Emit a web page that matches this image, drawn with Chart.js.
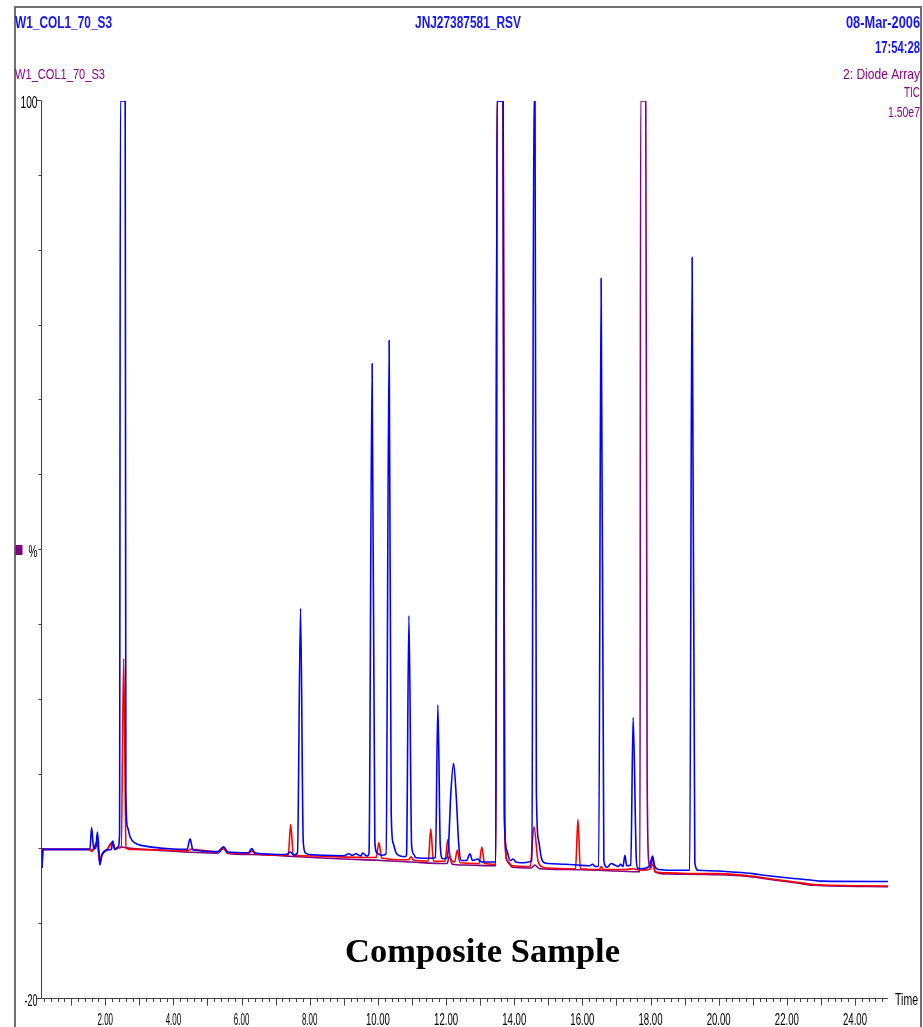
<!DOCTYPE html>
<html>
<head>
<meta charset="utf-8">
<script src="https://cdn.jsdelivr.net/npm/chart.js@4/dist/chart.umd.min.js"></script>
<style>
  html, body { margin: 0; padding: 0; background: #ffffff; }
  #wrap { position: relative; width: 923px; height: 1027px; }
  canvas { display: block; }
</style>
</head>
<body>
<div id="wrap"><canvas id="c" width="923" height="1027"></canvas></div>
<script>
// ---------------- DATA (time in minutes, response in %) ----------------
const blueTrace = [
  [0.144,-2.5],[0.17,0],[1.55,0],[1.60,2.9],[1.66,0.1],[1.72,0.2],[1.77,2.3],[1.81,0.0],[1.84,-2.1],
  [1.90,-0.8],[2.04,-0.1],[2.18,0.0],[2.22,1.1],[2.27,0.0],[2.31,0.1],[2.37,0.3],[2.42,2.0],
  [2.445,100],[2.585,100],[2.605,8],[2.65,3.0],[2.73,1.65],[2.87,0.85],[3.22,0.4],[4.0,0.05],
  [4.40,0.0],[4.49,1.4],[4.57,-0.05],[5.30,-0.3],[5.47,0.35],[5.60,-0.35],[6.20,-0.45],[6.30,0.1],
  [6.40,-0.5],[7.30,-0.7],[7.44,-0.35],[7.52,-0.75],[7.64,-0.5],[7.73,32.2],[7.81,1.0],[7.88,-0.5],
  [8.0,-0.7],[9.0,-0.85],[9.15,-0.6],[9.25,-0.8],[9.35,-0.6],[9.50,-0.9],[9.55,-0.5],[9.68,-0.9],
  [9.74,-0.5],[9.83,64.9],[9.91,1.0],[9.98,-0.5],[10.10,-0.8],[10.24,-0.6],[10.33,68.0],[10.39,5.0],
  [10.45,0.8],[10.55,-0.6],[10.80,-1.0],[10.84,-0.7],[10.91,31.2],[10.99,0.5],[11.06,-0.7],[11.10,-1.1],
  [11.30,-1.2],[11.50,-1.2],[11.69,-1.1],[11.76,19.3],[11.83,0.5],[11.90,-1.25],[12.02,-1.2],
  [12.07,0.3],[12.14,7.45],[12.22,11.5],[12.30,7.0],[12.37,0.8],[12.45,-1.5],[12.60,-1.5],[12.70,-0.6],
  [12.78,-1.5],[12.93,-1.3],[13.0,-1.6],[13.10,-1.7],[13.30,-1.7],[13.46,-1.7],[13.495,100],[13.675,100],
  [13.71,5.0],[13.78,-0.1],[13.88,-1.5],[13.97,-1.3],[14.05,-1.7],[14.20,-1.8],[14.52,-1.5],
  [14.575,100],[14.61,100],[14.65,8],[14.71,1.3],[14.80,-1.2],[14.88,-1.8],[15.0,-1.9],[15.5,-2.0],[15.85,-2.1],
  [16.20,-2.2],[16.30,-2.0],[16.38,-2.3],[16.48,-2.3],[16.55,76.3],[16.63,-1.5],[16.72,-2.4],
  [16.85,-1.9],[16.95,-2.1],[17.05,-2.3],[17.12,-2.0],[17.19,-2.3],[17.25,-0.8],[17.30,-2.2],
  [17.42,-2.1],[17.49,17.6],[17.58,-1.0],[17.62,-2.5],[17.72,-2.6],[17.95,-2.3],[18.0,-1.8],
  [18.06,-0.9],[18.12,-2.2],[18.25,-2.7],[18.60,-2.8],[19.15,-2.8],[19.22,79.1],[19.30,-1.8],
  [19.40,-2.8],[20.0,-2.9],[20.3,-3.0],[21.0,-3.25],[21.4,-3.5],[22.2,-3.9],[22.7,-4.1],[23.0,-4.25],
  [24.97,-4.3]
];
const redTrace = [
  [0.144,-2.5],[0.17,0],[1.55,0],[1.60,-0.3],[1.66,0],[1.77,0.6],[1.84,-1.5],[1.90,-0.7],[2.04,-0.1],
  [2.22,0.8],[2.29,0],[2.37,0.2],[2.47,0.3],[2.54,25.5],[2.61,0.2],[2.70,0.0],[3.5,-0.05],[4.4,-0.2],
  [4.49,0.0],[5.3,-0.35],[5.47,0.2],[5.6,-0.45],[6.2,-0.55],[6.3,-0.2],[6.4,-0.6],[7.37,-0.8],
  [7.44,3.3],[7.52,-0.7],[7.7,-0.85],[9.95,-1.1],[10.03,0.9],[10.11,-1.15],[10.9,-1.4],[10.97,-1.0],
  [11.05,-1.45],[11.48,-1.55],[11.55,2.7],[11.63,-1.55],[11.97,-1.6],[12.05,1.3],[12.12,-1.0],
  [12.25,-1.7],[12.33,-0.1],[12.41,-1.8],[12.97,-1.9],[13.05,0.3],[13.13,-1.9],[13.46,-2.0],
  [13.495,100],[13.675,100],[13.72,3.0],[13.80,-1.5],[13.95,-2.2],[14.47,-2.3],[14.58,3.0],
  [14.70,-1.6],[14.85,-2.4],[15.0,-2.5],[15.80,-2.6],[15.87,4.0],[15.94,-2.6],[16.5,-2.7],
  [16.55,-2.3],[16.62,-2.7],[17.25,-2.7],[17.49,-2.6],[17.70,-2.8],[18.0,-2.6],[18.06,-2.0],
  [18.15,-3.0],[18.5,-3.15],[19.45,-3.25],[20.0,-3.25],[20.8,-3.5],[21.8,-4.1],[22.3,-4.4],
  [22.8,-4.7],[24.97,-4.9]
];
const purpleTrace = [
  [0.144,-2.5],[0.17,0],[1.55,0],[1.60,-0.2],[1.77,1.0],[1.84,-1.8],[1.90,-0.8],[2.04,-0.1],
  [2.22,1.0],[2.29,0],[2.37,0.2],[2.50,0.3],[2.62,0.2],[3.5,-0.1],[5.3,-0.5],[5.47,0.1],[5.6,-0.55],
  [6.3,-0.7],[7.7,-1.0],[9.0,-1.3],[10.0,-1.45],[11.0,-1.7],[12.03,-1.9],[12.10,-0.9],[12.18,-2.0],
  [12.5,-2.1],[13.46,-2.2],[13.495,100],[13.675,100],[13.72,3.0],[13.80,-1.6],[13.95,-2.4],
  [14.5,-2.5],[14.6,-2.1],[14.75,-2.6],[15.5,-2.7],[16.5,-2.8],[17.0,-2.9],[17.69,-3.0],
  [17.71,100],[17.86,100],[17.90,10],[17.95,-1.7],[18.0,-2.4],[18.06,-1.0],[18.13,-3.0],
  [18.5,-3.3],[20.0,-3.4],[20.8,-3.6],[21.8,-4.2],[22.3,-4.5],[22.8,-4.8],[24.97,-5.0]
];
const xTickValues = [2, 4, 6, 8, 10, 12, 14, 16, 18, 20, 22, 24];
const xTickLabels = ['2.00','4.00','6.00','8.00','10.00','12.00','14.00','16.00','18.00','20.00','22.00','24.00'];
const yTickValues = [100, 40, -20];
const yTickLabels = ['100', '%', '-20'];
const X_MIN = 0.144, X_MAX = 24.968, Y_MIN = -20, Y_MAX = 100;

// ---------------- helpers ----------------
function toXY(arr) { return arr.map(p => ({ x: p[0], y: p[1] })); }

function txt(ctx, s, x, y, o) {
  ctx.save();
  ctx.font = o.font;
  ctx.fillStyle = o.color || '#000';
  ctx.textBaseline = 'alphabetic';
  ctx.textAlign = 'left';
  const w = ctx.measureText(s).width;
  const target = o.width || w;
  const sx = target / w;
  let left = x;
  if (o.align === 'right') left = x - target;
  else if (o.align === 'center') left = x - target / 2;
  ctx.translate(left, y);
  ctx.scale(sx, 1);
  ctx.fillText(s, 0, 0);
  ctx.restore();
}

const SANS = '"Liberation Sans", Arial, sans-serif';

const decor = {
  id: 'decor',
  beforeDatasetsDraw(chart) {
    const ctx = chart.ctx;
    const xs = chart.scales.x, ys = chart.scales.y;
    const ca = chart.chartArea;
    ctx.save();
    // outer frame
    ctx.strokeStyle = '#707070';
    ctx.lineWidth = 2;
    ctx.beginPath();
    ctx.moveTo(15, 1027); ctx.lineTo(15, 7); ctx.lineTo(921, 7); ctx.lineTo(921, 1027);
    ctx.stroke();

    // axes
    ctx.strokeStyle = '#404040';
    ctx.lineWidth = 1;
    const ax = Math.round(ca.left) - 0.5;
    const ay = Math.round(ys.getPixelForValue(Y_MIN)) - 0.5;
    ctx.beginPath();
    ctx.moveTo(ax, ys.getPixelForValue(Y_MAX));
    ctx.lineTo(ax, ay);
    ctx.lineTo(ca.right, ay);
    ctx.stroke();

    // y ticks every 10
    ctx.beginPath();
    for (let v = Y_MIN; v <= Y_MAX; v += 10) {
      const py = Math.round(ys.getPixelForValue(v)) - 0.5;
      const len = (v === Y_MAX || v === Y_MIN) ? 5 : 3;
      ctx.moveTo(ax - len, py); ctx.lineTo(ax, py);
    }
    const pz = Math.round(ys.getPixelForValue(0)) - 0.5;
    ctx.moveTo(ax, pz); ctx.lineTo(ax + 4, pz);
    ctx.stroke();

    // x ticks: minor 0.2, major 1.0
    ctx.beginPath();
    for (let i = 1; i * 0.2 <= X_MAX; i++) {
      const t = i * 0.2;
      if (t < X_MIN) continue;
      const px = Math.round(xs.getPixelForValue(t)) + 0.5;
      const len = (i % 5 === 0) ? 7 : 3.5;
      ctx.moveTo(px, ay); ctx.lineTo(px, ay + len);
    }
    ctx.stroke();

    // x labels
    xTickValues.forEach((v, i) => {
      const lab = xTickLabels[i];
      txt(ctx, lab, xs.getPixelForValue(v), 1024.5,
        { font: '16px ' + SANS, align: 'center', width: lab.length > 4 ? 24 : 15.5 });
    });
    txt(ctx, 'Time', 895, 1005, { font: '16px ' + SANS, width: 23 });

    // y labels
    const yW = { '100': 17, '%': 9, '-20': 13 };
    yTickValues.forEach((v, i) => {
      const lab = yTickLabels[i];
      const py = ys.getPixelForValue(v);
      txt(ctx, lab, 37.5, py + 6.5, { font: '16px ' + SANS, align: 'right', width: yW[lab] });
    });
    ctx.fillStyle = '#800080';
    ctx.fillRect(15.5, ys.getPixelForValue(40) - 5, 7, 10);

    // headers
    const BLUE = '#1414ff', PURP = '#8b008b';
    txt(ctx, 'W1_COL1_70_S3', 15, 28, { font: 'bold 16px ' + SANS, color: BLUE, width: 97 });
    txt(ctx, 'JNJ27387581_RSV', 415, 28, { font: 'bold 16px ' + SANS, color: BLUE, width: 106 });
    txt(ctx, '08-Mar-2006', 920, 28, { font: 'bold 16px ' + SANS, color: BLUE, align: 'right', width: 74 });
    txt(ctx, '17:54:28', 920, 52.5, { font: 'bold 16px ' + SANS, color: BLUE, align: 'right', width: 45 });
    txt(ctx, 'W1_COL1_70_S3', 15, 78.5, { font: '15px ' + SANS, color: PURP, width: 90 });
    txt(ctx, '2: Diode Array', 920, 78.5, { font: '15px ' + SANS, color: PURP, align: 'right', width: 77 });
    txt(ctx, 'TIC', 920, 97, { font: '15px ' + SANS, color: PURP, align: 'right', width: 16 });
    txt(ctx, '1.50e7', 920, 117, { font: '15px ' + SANS, color: PURP, align: 'right', width: 32 });

    txt(ctx, 'Composite Sample', 482.5, 962,
      { font: 'bold 33px "Liberation Serif", "Times New Roman", serif', align: 'center', width: 275 });
    ctx.restore();
  }
};

const line = (data, color) => ({
  data: toXY(data), borderColor: color, borderWidth: 1.6, pointRadius: 0,
  cubicInterpolationMode: 'monotone', fill: false, borderJoinStyle: 'round'
});

new Chart(document.getElementById('c'), {
  type: 'line',
  data: {
    datasets: [
      line(blueTrace, '#0000ff'),
      line(redTrace, '#ff0000'),
      line(purpleTrace, '#800080')
    ]
  },
  options: {
    responsive: false,
    animation: false,
    devicePixelRatio: 1,
    layout: { padding: { left: 42, right: 35, top: 101, bottom: 28 } },
    plugins: { legend: { display: false }, tooltip: { enabled: false }, title: { display: false } },
    scales: {
      x: { type: 'linear', min: X_MIN, max: X_MAX, display: false },
      y: { type: 'linear', min: Y_MIN, max: Y_MAX, display: false }
    }
  },
  plugins: [decor]
});
</script>
</body>
</html>
